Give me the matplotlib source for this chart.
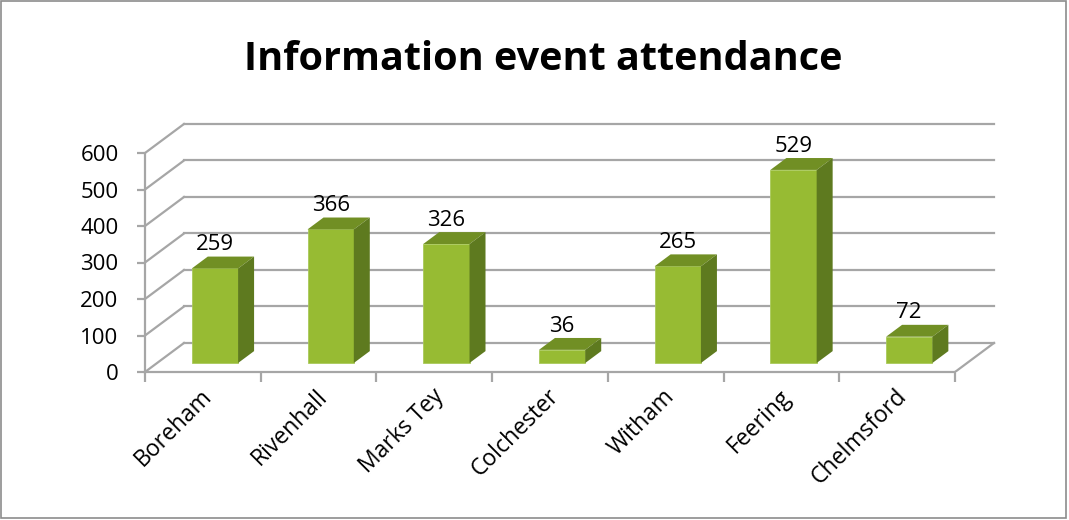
import numpy as np
import matplotlib.pyplot as plt
import matplotlib.transforms as mtransforms
from matplotlib.patches import Polygon, Rectangle

# data
lieux = ['Boreham', 'Rivenhall', 'Marks Tey', 'Colchester', 'Witham', 'Feering', 'Chelmsford']
participants = [259, 366, 326, 36, 265, 529, 72]
graduations = [0, 100, 200, 300, 400, 500, 600]

plt.rcParams['font.family'] = ['Open Sans', 'DejaVu Sans']

# fausse perspective (unites de donnees)
prof_x = 0.337   # decalage horizontal de la paroi du fond
prof_y = 79.5    # decalage vertical de la paroi du fond
d0, d1 = 0.31, 0.72  # avant / arriere des barres
larg = 0.4

vert = '#97bb33'
vert_haut = '#718f24'
vert_cote = '#5e7a1f'
gris = '#a6a6a6'

fig = plt.figure(figsize=(10.69, 5.2), dpi=100)
fig.patches.append(Rectangle((0.001, 0.004), 0.996, 0.994, transform=fig.transFigure,
                             fill=False, edgecolor='#8c8c8c', linewidth=1.2))

W, H = 1069, 520
ppx = 810 / 7
ppy = (372 - 153) / 600
xmax, ymax = 7.4, 690
ax = fig.add_axes([145 / W, (H - 372) / H, xmax * ppx / W, ymax * ppy / H])
ax.set_xlim(0, xmax)
ax.set_ylim(0, ymax)
ax.patch.set_visible(False)

n = len(lieux)

# grille du fond et paroi gauche
for g in graduations:
    ax.plot([prof_x, n + prof_x], [g + prof_y, g + prof_y], color=gris, lw=1.6, zorder=1)
    ax.plot([0, prof_x], [g, g + prof_y], color=gris, lw=1.6, zorder=1)
ax.plot([n, n + prof_x], [0, prof_y], color=gris, lw=1.6, zorder=1)

# barres
x_avant = np.arange(n) + 0.5 + d0 * prof_x
ax.bar(x_avant, participants, width=larg, bottom=d0 * prof_y, color=vert,
       edgecolor='#a9c95a', linewidth=0.6, zorder=3)
dx = (d1 - d0) * prof_x
for xc, v in zip(x_avant, participants):
    xl, xr = xc - larg / 2, xc + larg / 2
    y0, y1 = d0 * prof_y, v + d0 * prof_y
    haut = [(xl, y1), (xr, y1), (xr + dx, v + d1 * prof_y), (xl + dx, v + d1 * prof_y)]
    cote = [(xr, y0), (xr + dx, d1 * prof_y), (xr + dx, v + d1 * prof_y), (xr, y1)]
    ax.add_patch(Polygon(haut, closed=True, facecolor=vert_haut, edgecolor='none', zorder=3))
    ax.add_patch(Polygon(cote, closed=True, facecolor=vert_cote, edgecolor='none', zorder=3))
    ax.annotate(str(v), (xc, v + d1 * prof_y), xytext=(0, 1), textcoords='offset points',
                ha='center', va='bottom', fontsize=16, zorder=4)

# axes
for s in ['top', 'right']:
    ax.spines[s].set_visible(False)
ax.spines['left'].set_bounds(0, 600)
ax.spines['bottom'].set_bounds(0, n)
for s in ['left', 'bottom']:
    ax.spines[s].set_color(gris)
    ax.spines[s].set_linewidth(1.6)
ax.set_yticks(graduations)
ax.tick_params(axis='y', length=6, width=1.6, color=gris, labelsize=16, pad=13)
ax.set_xticks(np.arange(n) + 0.5, lieux)
ax.set_xticks(np.arange(n + 1), minor=True)
ax.tick_params(axis='x', which='major', length=0, labelsize=16.5, pad=9)
ax.tick_params(axis='x', which='minor', length=7, width=1.6, color=gris)
decal = mtransforms.ScaledTranslation(-2 / 72, 0, fig.dpi_scale_trans)
for lab in ax.get_xticklabels():
    lab.set_rotation(45)
    lab.set_ha('right')
    lab.set_rotation_mode('anchor')
    lab.set_transform(lab.get_transform() + decal)

fig.text(543 / W, 1 - 60 / H, 'Information event attendance', ha='center', va='center',
         fontsize=28.5, fontweight='bold')

plt.savefig('out.png', dpi=100)
